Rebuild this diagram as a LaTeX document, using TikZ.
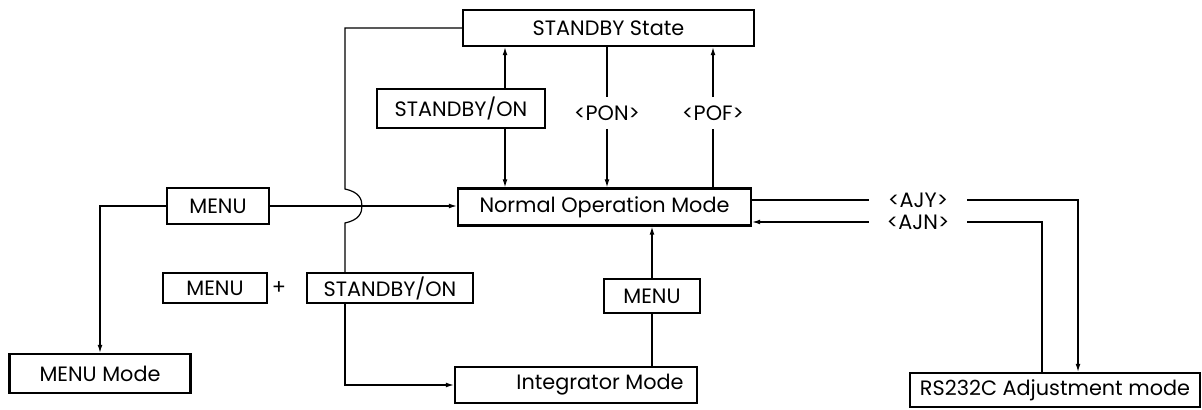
\documentclass[tikz,border=0pt]{standalone}
\usepackage{fontspec}
\setmainfont{Poppins}
\usepackage{tikz}
\usetikzlibrary{arrows.meta,positioning,calc}
\tikzset{
  box/.style={draw, line width=1.1pt, align=center, inner sep=0pt, font=\fontsize{10.4}{12}\selectfont},
  key/.style={inner xsep=0pt, inner ysep=4pt, font=\fontsize{10.4}{12}\selectfont},
  wire/.style={line width=0.6pt},
  arrow/.style={-{Latex[length=4pt,width=2.4pt]}, line width=0.6pt}
}

\begin{document}
\begin{tikzpicture}[x=0.5pt, y=-0.5pt]
  \useasboundingbox (0,0) rectangle (1202,410);

  \node[box, minimum width=145.5pt, minimum height=18pt] (stby) at (608.5,28) {STANDBY State};
  \node[box, minimum width=84pt, minimum height=19.5pt] (stbyon) at (461,108.5) {STANDBY/ON};
  \node[key] (pon) at (607,113) {<PON>};
  \node[key] (pof) at (713,113) {<POF>};
  \node[box, minimum width=146.5pt, minimum height=18.5pt] (normal) at (604.5,207) {Normal Operation Mode};
  \node[box, minimum width=51pt, minimum height=18pt] (menuA) at (218,206) {MENU};
  \node[box, minimum width=90.5pt, minimum height=19.5pt] (menumode) at (100,373.5) {MENU Mode};
  \node[box, minimum width=52pt, minimum height=15pt] (menuB) at (215,288) {MENU};
  \node[key] (plus) at (279,288) {+};
  \node[box, minimum width=83pt, minimum height=15pt] (stbyonB) at (390,288) {STANDBY/ON};
  \node[box, minimum width=48pt, minimum height=17pt] (menuC) at (652,296) {MENU};
  \node[box, minimum width=121pt, minimum height=18pt] (integ) at (576,385) {\hspace{24pt}Integrator Mode};
  \node[box, minimum width=145pt, minimum height=17pt] (rs) at (1055,390) {RS232C Adjustment mode};
  \node[key, minimum width=49pt] (ajy) at (918,200) {<AJY>};
  \node[key, minimum width=49pt] (ajn) at (918,222) {<AJN>};

  \coordinate (sbonx) at (505,0);
  \coordinate (leftx) at (345,0);
  \coordinate (ajyx) at (1078,0);
  \coordinate (ajnx) at (1042,0);

  \draw[arrow] (stbyon.north -| sbonx) -- (stby.south -| sbonx);
  \draw[arrow] (stbyon.south -| sbonx) -- (normal.north -| sbonx);
  \draw[wire] (stby.south -| pon) -- (pon.north);
  \draw[arrow] (pon.south) -- (normal.north -| pon);
  \draw[wire] (normal.north -| pof) -- (pof.south);
  \draw[arrow] (pof.north) -- (stby.south -| pof);

  \draw[arrow] (menuA.east) -- (menuA.east -| normal.west);
  \draw[arrow] (menuA.west) -| (menumode.north);

  \draw[wire] (stby.west) -- (stby.west -| leftx)
    -- ($(leftx |- menuA.east)+(0,-17)$)
    .. controls +(14,3) and +(0,-7) .. ($(leftx |- menuA.east)+(17,0)$)
    .. controls +(0,7) and +(14,-3) .. ($(leftx |- menuA.east)+(0,17)$)
    -- (stbyonB.north -| leftx);
  \draw[arrow] (stbyonB.south -| leftx) |- (integ.west);

  \draw[wire] (integ.north -| menuC) -- (menuC.south);
  \draw[arrow] (menuC.north) -- (normal.south -| menuC);

  \draw[wire] (normal.east |- ajy) -- (ajy.west);
  \draw[arrow] (ajy.east) -| (ajyx |- rs.north);
  \draw[wire] (ajn.east) -| (ajnx |- rs.north);
  \draw[arrow] (ajn.west) -- (normal.east |- ajn);
\end{tikzpicture}
\end{document}
